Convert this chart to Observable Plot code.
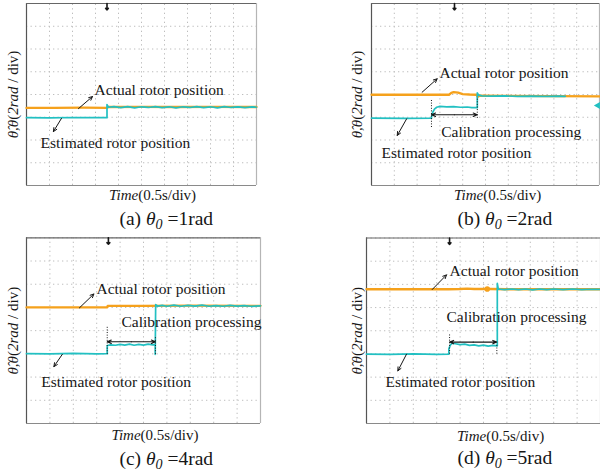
<!DOCTYPE html>
<html><head><meta charset="utf-8">
<script src="https://cdn.jsdelivr.net/npm/d3@7"></script>
<script src="https://cdn.jsdelivr.net/npm/@observablehq/plot@0.6"></script>
<style>
html,body{margin:0;padding:0;background:#fff;}
#wrap{position:relative;width:600px;height:474px;overflow:hidden;background:#fff;}
.panel{position:absolute;}
</style></head><body><div id="wrap"></div>
<script>
// ---- text ----
const panelIds = ["a", "b", "c", "d"];
const theta0Values = ["1rad", "2rad", "4rad", "5rad"];
const timeLabel = "Time(0.5s/div)";
const yLabel = "θ̂,θ(2rad / div)";
const actualLabel = "Actual rotor position";
const estimatedLabel = "Estimated rotor position";
const calibrationLabel = "Calibration processing";

// ---- grid divisions (oscilloscope: 10 x 8 div) ----
const gridX = [0, 1, 2, 3, 4, 5, 6, 7, 8, 9, 10];
const gridY = [0, 1, 2, 3, 4, 5, 6, 7, 8];

// ---- traces, [time div, vertical div] ----
const actualA = [[0,3.41],[1.2,3.41],[2.5,3.42],[3.5,3.41],[3.56,3.45],[5,3.46],[6.5,3.45],[8,3.46],[10,3.45]];
const estimatedA = [[0,2.98],[1,2.97],[2,2.99],[3,2.98],[3.5,2.98],[3.5,3.56],[3.56,3.44],[3.8,3.47],[4.1,3.42],[4.4,3.47],[4.7,3.41],[5,3.46],[5.3,3.43],[5.6,3.47],[5.9,3.42],[6.2,3.46],[6.5,3.41],[6.8,3.46],[7.1,3.43],[7.4,3.47],[7.7,3.42],[8,3.46],[8.3,3.41],[8.6,3.47],[8.9,3.43],[9.2,3.46],[9.5,3.42],[9.8,3.46],[10,3.44]];

const actualB = [[0,3.99],[2,3.99],[3.4,3.99],[3.5,4.07],[3.6,4.1],[3.8,4.08],[4.0,4.02],[4.3,4.0],[4.6,3.99],[4.66,3.9],[4.75,3.95],[6,3.94],[8,3.93],[10,3.92]];
const estimatedB = [[0,2.96],[1.5,2.95],[2.63,2.96],[2.63,3.0],[2.68,3.2],[2.76,3.36],[2.86,3.44],[3.0,3.48],[3.3,3.46],[3.6,3.47],[3.9,3.44],[4.2,3.45],[4.4,3.42],[4.64,3.42],[4.64,4.07],[4.7,3.97],[4.85,3.94],[5.3,3.93],[5.8,3.94],[6.4,3.92],[7.0,3.93],[7.6,3.92],[8.2,3.93],[8.5,3.92]];
const markerB = [[9.93, 3.52]];

const actualC = [[0,5.0],[2,5.0],[3.45,5.0],[3.47,5.07],[5,5.07],[7,5.08],[10,5.07]];
const estimatedC = [[0,3.01],[1,3.0],[2,3.02],[3,3.0],[3.45,3.01],[3.45,3.36],[3.6,3.39],[3.8,3.37],[4.0,3.41],[4.2,3.38],[4.4,3.42],[4.6,3.37],[4.8,3.41],[5.0,3.38],[5.2,3.42],[5.4,3.39],[5.5,3.4],[5.5,2.98],[5.52,5.12],[5.6,5.06],[5.8,5.09],[6.0,5.05],[6.3,5.1],[6.6,5.05],[6.9,5.09],[7.2,5.06],[7.5,5.1],[7.8,5.05],[8.1,5.08],[8.4,5.05],[8.7,5.09],[9.0,5.06],[9.3,5.08],[9.6,5.05],[10,5.07]];

const actualD = [[0,5.79],[3.5,5.79],[4.0,5.8],[4.3,5.82],[4.6,5.8],[5.0,5.81],[5.3,5.8],[6,5.79],[10,5.79]];
const blobD = [[5.16, 5.8]];
const estimatedD = [[0,2.99],[1,2.98],[2,3.0],[3,2.98],[3.52,2.99],[3.52,3.22],[3.58,3.38],[3.66,3.46],[3.8,3.44],[4.0,3.4],[4.2,3.42],[4.4,3.37],[4.6,3.39],[4.8,3.35],[5.0,3.38],[5.2,3.34],[5.4,3.37],[5.59,3.35],[5.59,6.04],[5.63,5.8],[5.9,5.77],[6.2,5.8],[6.5,5.77],[6.8,5.8],[7.1,5.76],[7.4,5.8],[7.7,5.77],[8,5.8],[8.4,5.77],[8.8,5.8],[9.2,5.77],[9.6,5.79],[10,5.78]];

// trigger positions (time div)
const triggers = [3.5, 3.64, 3.5, 3.55];

// calibration intervals [start, end] (time div)
const calibration = [null, [2.63, 4.64], [3.45, 5.51], [3.55, 5.57]];

const ORANGE = "#f5a11c";
const CYAN = "#22c0c2";
const INK = "#161616";

const panels = [
  { id:"a", actual:actualA, est:estimatedA, trig:triggers[0],
    box:{left:0, top:0, width:300, height:237, mt:3, mr:44, mb:52, ml:26},
    timeX:5.48, timeDy:10, capX:4.04, capDy:33, yDx:-13,
    labels:[{x:2.96,y:4.18,t:actualLabel},{x:0.61,y:1.85,t:estimatedLabel}],
    arrows:[{x1:2.26,y1:3.38,x2:2.87,y2:3.91},{x1:1.52,y1:2.95,x2:1.17,y2:2.37}],
    calib:null },
  { id:"b", actual:actualB, est:estimatedB, trig:triggers[1],
    box:{left:300, top:0, width:300, height:237, mt:3, mr:1, mb:52, ml:71},
    timeX:5.53, timeDy:10, capX:3.77, capDy:33, yDx:-14,
    labels:[{x:2.98,y:4.94,t:actualLabel},{x:3.06,y:2.34,t:calibrationLabel},{x:0.44,y:1.44,t:estimatedLabel}],
    arrows:[{x1:2.22,y1:4.1,x2:2.88,y2:4.69},{x1:1.54,y1:2.93,x2:1.13,y2:2.2}],
    calib:{a:calibration[1][0], b:calibration[1][1], y:3.11, da:[2.55,3.74], db:[2.95,3.87]},
    marker:markerB },
  { id:"c", actual:actualC, est:estimatedC, trig:triggers[2],
    box:{left:0, top:232, width:300, height:242, mt:5.3, mr:40, mb:51, ml:26},
    timeX:5.49, timeDy:11.3, capX:3.97, capDy:35.7, yDx:-13,
    labels:[{x:2.99,y:5.81,t:actualLabel},{x:4.06,y:4.35,t:calibrationLabel},{x:0.63,y:1.79,t:estimatedLabel}],
    arrows:[{x1:2.26,y1:4.98,x2:2.88,y2:5.58},{x1:1.53,y1:2.98,x2:1.17,y2:2.45}],
    calib:{a:calibration[2][0], b:calibration[2][1], y:3.52, da:[2.98,4.21], db:[2.98,3.7]} },
  { id:"d", actual:actualD, est:estimatedD, trig:triggers[3],
    box:{left:300, top:232, width:300, height:242, mt:5.5, mr:0, mb:51, ml:66},
    timeX:5.73, timeDy:12.3, capX:3.89, capDy:34, yDx:-9.5,
    labels:[{x:3.55,y:6.59,t:actualLabel},{x:3.42,y:4.6,t:calibrationLabel},{x:0.81,y:1.79,t:estimatedLabel}],
    arrows:[{x1:2.81,y1:5.78,x2:3.42,y2:6.41},{x1:1.71,y1:2.99,x2:1.34,y2:2.27}],
    calib:{a:calibration[3][0], b:calibration[3][1], y:3.51, da:[2.99,3.84], db:[2.99,3.43]},
    blob:blobD }
];

function caption(i) { return `(${panelIds[i]}) θ0 =${theta0Values[i]}`; }
function captionRich(i) {
  return `(${panelIds[i]}) <tspan font-style="italic">θ</tspan><tspan font-style="italic" font-size="14" dy="4">0</tspan><tspan dy="-4"> =${theta0Values[i]}</tspan>`;
}

const wrap = document.getElementById("wrap");
panels.forEach((p, i) => {
  const b = p.box;
  const m = [];
  // grid
  m.push(Plot.ruleX(gridX, {y1:0, y2:8, stroke:"#bdbdbd", strokeDasharray:"1.3,3.2", strokeWidth:1}));
  m.push(Plot.ruleY(gridY, {x1:0, x2:10, stroke:"#bdbdbd", strokeDasharray:"1.3,3.2", strokeWidth:1}));
  // frame
  m.push(Plot.ruleX([0], {y1:0, y2:8, stroke:"#555", strokeWidth:1.2}));
  m.push(Plot.ruleX([10], {y1:0, y2:8, stroke:"#b5b5b5", strokeWidth:1.2}));
  m.push(Plot.ruleY([8], {x1:0, x2:10, stroke:"#666", strokeWidth:1.2}));
  m.push(Plot.ruleY([0], {x1:0, x2:10, stroke:"#8a8a8a", strokeWidth:1.2}));
  // traces
  m.push(Plot.line(p.actual, {x:d=>d[0], y:d=>d[1], stroke:ORANGE, strokeWidth:2.3}));
  if (p.blob) m.push(Plot.dot(p.blob, {x:d=>d[0], y:d=>d[1], r:2.8, fill:ORANGE}));
  m.push(Plot.line(p.est, {x:d=>d[0], y:d=>d[1], stroke:CYAN, strokeWidth:1.7}));
  if (p.marker) m.push(Plot.dot(p.marker, {x:d=>d[0], y:d=>d[1], symbol:"triangle", rotate:-90, r:2.6, fill:CYAN}));
  // trigger marker
  m.push(Plot.arrow([p.trig], {x1:d=>d, x2:d=>d, y1:8, y2:7.72, stroke:INK, strokeWidth:1.6, headLength:5, headAngle:80}));
  // calibration interval
  if (p.calib) {
    const c = p.calib, mid = (c.a + c.b) / 2;
    m.push(Plot.ruleX([{x:c.a, y1:c.da[0], y2:c.da[1]}, {x:c.b, y1:c.db[0], y2:c.db[1]}],
      {x:"x", y1:"y1", y2:"y2", stroke:INK, strokeWidth:1, strokeDasharray:"1,1.6"}));
    m.push(Plot.arrow([{x1:mid, x2:c.a}, {x1:mid, x2:c.b}],
      {x1:"x1", x2:"x2", y1:c.y, y2:c.y, stroke:INK, strokeWidth:1.1, headLength:6, headAngle:45}));
  }
  // annotation arrows & labels
  m.push(Plot.arrow(p.arrows, {x1:"x1", y1:"y1", x2:"x2", y2:"y2", stroke:INK, strokeWidth:1, headLength:6, headAngle:50}));
  m.push(Plot.text(p.labels, {x:"x", y:"y", text:"t", textAnchor:"start", lineAnchor:"middle", fontSize:15.5, fill:INK}));
  // axis labels and caption
  m.push(Plot.text([yLabel], {frameAnchor:"left", dx:p.yDx, rotate:-90, textAnchor:"middle", lineAnchor:"middle", fontSize:15, fill:INK}));
  m.push(Plot.text([timeLabel], {x:p.timeX, frameAnchor:"bottom", dy:p.timeDy, textAnchor:"middle", lineAnchor:"middle", fontSize:15, fill:INK}));
  m.push(Plot.text([caption(i)], {x:p.capX, frameAnchor:"bottom", dy:p.capDy, textAnchor:"start", lineAnchor:"middle", fontSize:19.5, fill:INK}));
  const svg = Plot.plot({
    width:b.width, height:b.height,
    marginTop:b.mt, marginRight:b.mr, marginBottom:b.mb, marginLeft:b.ml,
    x:{domain:[0,10], axis:null},
    y:{domain:[0,8], axis:null},
    style:{fontFamily:"'Liberation Serif', 'Times New Roman', serif", background:"transparent", overflow:"visible"},
    marks:m
  });
  const rich = {};
  rich[yLabel] = '<tspan font-style="italic">θ̂,θ</tspan>(<tspan font-style="italic">2rad</tspan> / div)';
  rich[timeLabel] = '<tspan font-style="italic">Time</tspan>(0.5s/div)';
  rich[caption(i)] = captionRich(i);
  svg.querySelectorAll("text").forEach(t => {
    const k = t.textContent;
    if (rich[k]) t.innerHTML = rich[k];
  });
  const div = document.createElement("div");
  div.className = "panel";
  div.style.left = b.left + "px";
  div.style.top = b.top + "px";
  div.style.width = b.width + "px";
  div.style.height = b.height + "px";
  div.appendChild(svg);
  wrap.appendChild(div);
});
</script></body></html>
